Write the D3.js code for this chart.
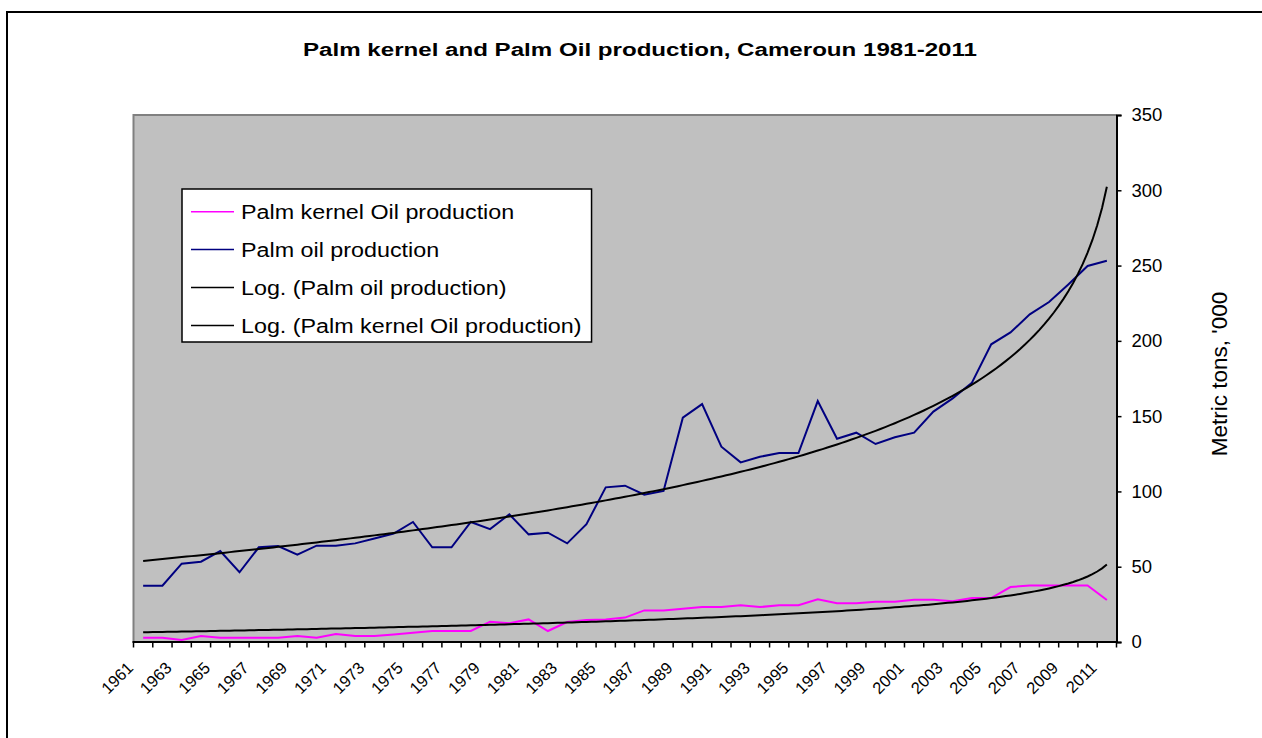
<!DOCTYPE html>
<html>
<head>
<meta charset="utf-8">
<script src="https://cdn.jsdelivr.net/npm/d3@7/dist/d3.min.js"></script>
<style>
  body { margin: 0; background: #fff; }
  svg { display: block; font-family: "Liberation Sans", Arial, sans-serif; }
</style>
</head>
<body>
<div id="chart"></div>
<script>
// categories (years)
const years = [1961, 1962, 1963, 1964, 1965, 1966, 1967, 1968, 1969, 1970,
  1971, 1972, 1973, 1974, 1975, 1976, 1977, 1978, 1979, 1980,
  1981, 1982, 1983, 1984, 1985, 1986, 1987, 1988, 1989, 1990,
  1991, 1992, 1993, 1994, 1995, 1996, 1997, 1998, 1999, 2000,
  2001, 2002, 2003, 2004, 2005, 2006, 2007, 2008, 2009, 2010, 2011];

// metric tons, '000
const palmKernelOil = [2.9, 2.9, 1.3, 4, 2.9, 2.9, 2.9, 2.9, 4, 2.9,
  5.3, 4, 4, 5, 6.2, 7.3, 7.3, 7.3, 13.5, 12.4,
  15, 7.3, 13.3, 14.6, 15, 16.2, 21, 21, 22.1, 23.2,
  23.2, 24.4, 23.2, 24.4, 24.4, 28.3, 25.7, 25.7, 26.8, 26.8,
  28.1, 28.1, 27, 29.2, 29.2, 36.5, 37.6, 37.6, 37.6, 37.6, 27.9];

const palmOil = [37.4, 37.4, 52, 53.3, 60.4, 46.3, 62.9, 63.7, 58, 64,
  64, 65.5, 68.8, 72, 79.7, 62.9, 62.9, 79.7, 75, 84.8,
  71.5, 72.6, 65.5, 78.3, 102.7, 103.8, 97.8, 100.3, 149, 158,
  129.7, 119.3, 123, 125.5, 125.5, 160, 135, 139, 131.5, 136,
  139, 153, 161.8, 172.2, 197.7, 205.6, 217.6, 225.8, 237.5, 249.7, 253.2];

const yTicks = [0, 50, 100, 150, 200, 250, 300, 350];
const xLabels = years.filter((y, i) => i % 2 === 0);

const legendItems = [
  { name: 'Palm kernel Oil production', color: '#ff00ff' },
  { name: 'Palm oil production', color: '#000080' },
  { name: 'Log. (Palm oil production)', color: '#000000' },
  { name: 'Log. (Palm kernel Oil production)', color: '#000000' }
];

const width = 1262, height = 738;
const plot = { left: 133.5, right: 1116.5, top: 115, bottom: 642 };

const svg = d3.select('#chart').append('svg')
  .attr('width', width)
  .attr('height', height);

// outer chart frame
svg.append('rect')
  .attr('x', 7).attr('y', 12)
  .attr('width', 1300).attr('height', 800)
  .attr('fill', '#fff')
  .attr('stroke', '#000')
  .attr('stroke-width', 2);

svg.append('text')
  .attr('x', 640).attr('y', 56)
  .attr('text-anchor', 'middle')
  .attr('font-weight', 'bold')
  .attr('font-size', 18)
  .attr('textLength', 674)
  .attr('lengthAdjust', 'spacingAndGlyphs')
  .text('Palm kernel and Palm Oil production, Cameroun 1981-2011');

const x = d3.scaleBand()
  .domain(years)
  .range([plot.left, plot.right]);

const y = d3.scaleLinear()
  .domain([0, 350])
  .range([plot.bottom, plot.top]);

// continuous index scale for the trend curves
const xi = d3.scaleLinear()
  .domain([0, years.length - 1])
  .range([x(years[0]) + x.bandwidth() / 2, x(years[years.length - 1]) + x.bandwidth() / 2]);

// plot area
svg.append('rect')
  .attr('x', plot.left).attr('y', plot.top)
  .attr('width', plot.right - plot.left)
  .attr('height', plot.bottom - plot.top)
  .attr('fill', '#c0c0c0');

svg.append('path')
  .attr('d', `M${plot.left},${plot.bottom}V${plot.top}H${plot.right}`)
  .attr('fill', 'none')
  .attr('stroke', '#808080')
  .attr('stroke-width', 2);

// y axis (right)
const yAxis = svg.append('g')
  .attr('transform', `translate(${plot.right},0)`)
  .call(d3.axisRight(y).tickValues(yTicks).tickSize(5).tickPadding(10).tickFormat(d3.format('d')));
yAxis.select('.domain').attr('stroke', '#000').attr('stroke-width', 2);
yAxis.selectAll('.tick line').attr('stroke', '#000').attr('stroke-width', 1.5);
yAxis.selectAll('.tick text')
  .attr('font-size', 18.5)
  .attr('font-family', '"Liberation Sans", Arial, sans-serif')
  .attr('fill', '#000');

// x axis: ticks between categories
const xAxisG = svg.append('g');
xAxisG.append('line')
  .attr('x1', plot.left - 1).attr('x2', plot.right + 1)
  .attr('y1', plot.bottom).attr('y2', plot.bottom)
  .attr('stroke', '#000').attr('stroke-width', 2);
xAxisG.selectAll('.xt')
  .data(years.concat(['end']))
  .enter().append('line')
  .attr('x1', d => d === 'end' ? plot.right : x(d))
  .attr('x2', d => d === 'end' ? plot.right : x(d))
  .attr('y1', plot.bottom)
  .attr('y2', plot.bottom + 5.5)
  .attr('stroke', '#000')
  .attr('stroke-width', 1.5);

xAxisG.selectAll('.xl')
  .data(xLabels)
  .enter().append('text')
  .attr('transform', d => `translate(${x(d) + x.bandwidth() / 2 - 9},${plot.bottom + 27}) rotate(-45)`)
  .attr('text-anchor', 'end')
  .attr('font-size', 16.5)
  .text(d => d);

// y axis title
svg.append('text')
  .attr('transform', 'translate(1226.5,374) rotate(-90)')
  .attr('text-anchor', 'middle')
  .attr('font-size', 22.5)
  .text("Metric tons, '000");

// series lines
const line = d3.line()
  .x((d, i) => x(years[i]) + x.bandwidth() / 2)
  .y(d => y(d));

// Excel "Log." trend, fitted on x = n..1 (sheet had years in descending order)
function logFit(vals) {
  const n = vals.length;
  const lx = vals.map((v, i) => Math.log(n - i));
  const mx = d3.mean(lx), my = d3.mean(vals);
  const b = d3.sum(vals, (v, i) => (lx[i] - mx) * (v - my)) / d3.sum(lx, l => (l - mx) * (l - mx));
  const a = my - b * mx;
  return t => a + b * Math.log(n - t);
}

function trendPoints(vals) {
  const f = logFit(vals);
  const pts = [];
  for (let t = 0; t <= vals.length - 1 + 1e-9; t += 0.25) pts.push([t, f(t)]);
  return pts;
}

const trendLine = d3.line()
  .x(d => xi(d[0]))
  .y(d => y(d[1]));

svg.append('path')
  .datum(palmKernelOil)
  .attr('d', line)
  .attr('fill', 'none')
  .attr('stroke', '#ff00ff')
  .attr('stroke-width', 2);

svg.append('path')
  .datum(palmOil)
  .attr('d', line)
  .attr('fill', 'none')
  .attr('stroke', '#000080')
  .attr('stroke-width', 2);

svg.append('path')
  .datum(trendPoints(palmOil))
  .attr('d', trendLine)
  .attr('fill', 'none')
  .attr('stroke', '#000')
  .attr('stroke-width', 2);

svg.append('path')
  .datum(trendPoints(palmKernelOil))
  .attr('d', trendLine)
  .attr('fill', 'none')
  .attr('stroke', '#000')
  .attr('stroke-width', 2);

// legend
const legend = svg.append('g').attr('transform', 'translate(182,189)');
const legendBox = legend.append('rect')
  .attr('height', 153)
  .attr('fill', '#fff')
  .attr('stroke', '#000')
  .attr('stroke-width', 1.5);

const li = legend.selectAll('.legend')
  .data(legendItems)
  .enter().append('g')
  .attr('class', 'legend')
  .attr('transform', (d, i) => `translate(0,${22.7 + i * 37.9})`);

li.append('line')
  .attr('x1', 9).attr('x2', 52)
  .attr('stroke', d => d.color)
  .attr('stroke-width', 1.5);

li.append('text')
  .attr('transform', 'translate(59,7.5) scale(1.11,1)')
  .attr('font-size', 21)
  .text(d => d.name);

// box wide enough for the longest entry
const maxW = d3.max(li.selectAll('text').nodes(), n => n.getComputedTextLength()) * 1.11;
legendBox.attr('width', 59 + maxW + 10);
</script>
</body>
</html>
